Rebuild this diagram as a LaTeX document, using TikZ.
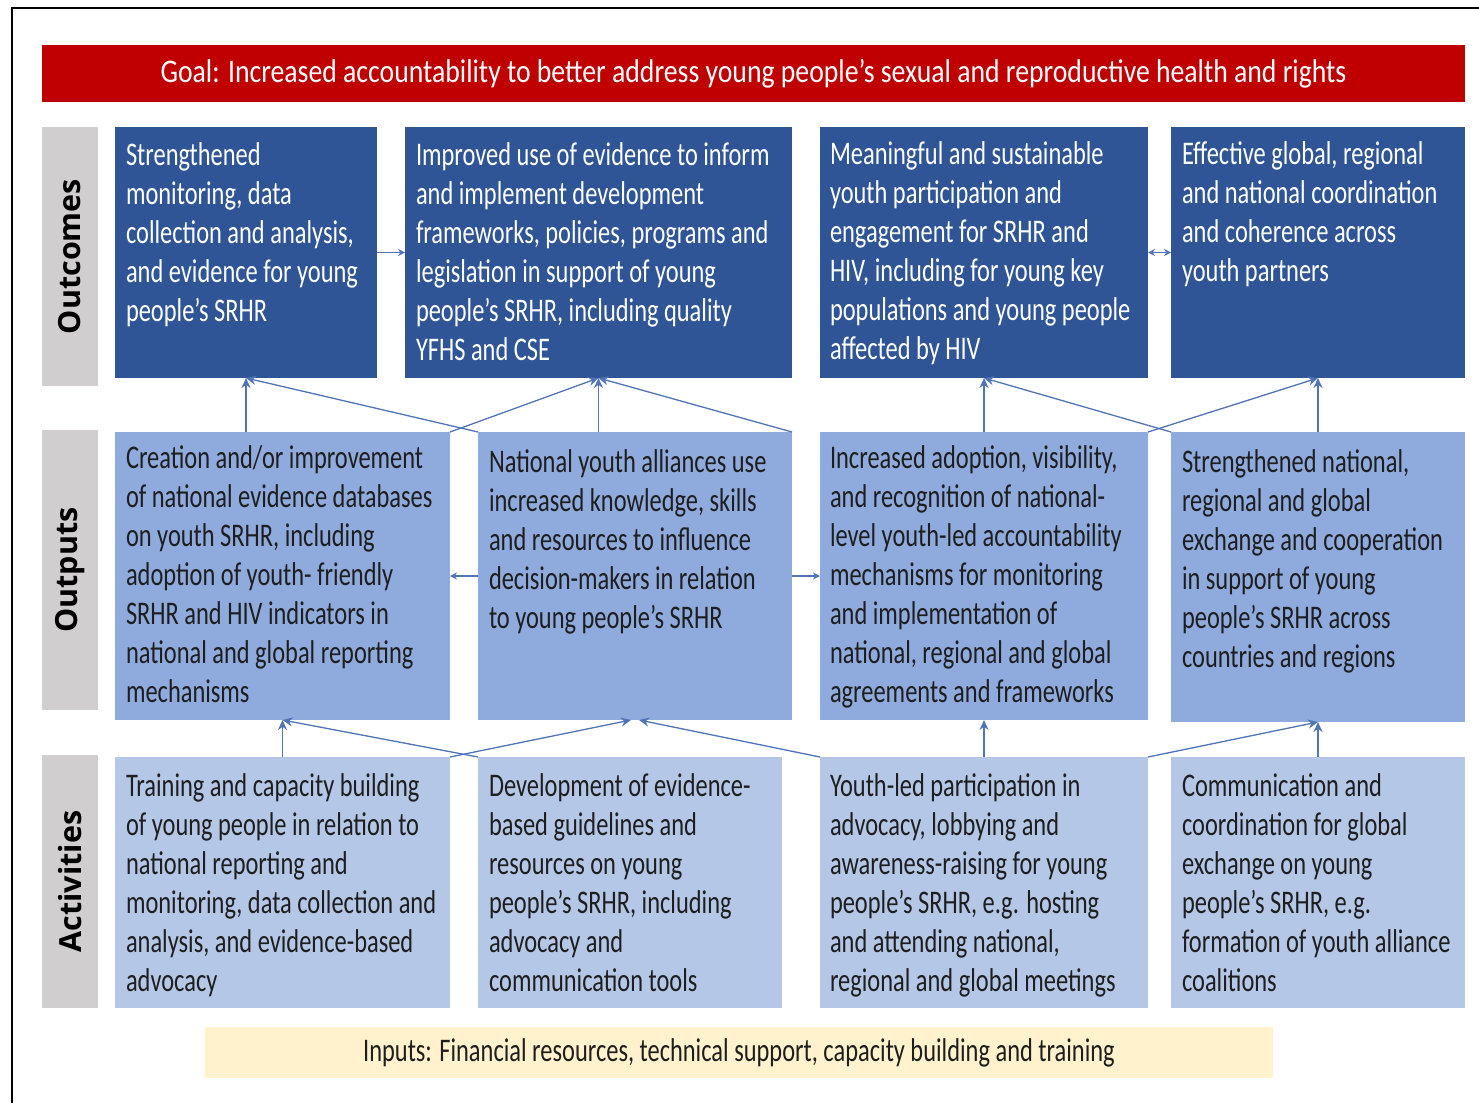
\documentclass[tikz,border=0pt]{standalone}
\usepackage{fontspec}
\setmainfont{Carlito}[FakeStretch=0.74]
\newfontfamily\goalfont{Carlito}[FakeStretch=0.84]
\newfontfamily\labfont{Open Sans}
\usetikzlibrary{arrows.meta}
\definecolor{goalred}{HTML}{C00000}
\definecolor{outcomeblue}{HTML}{2F5597}
\definecolor{outputblue}{HTML}{8FAADC}
\definecolor{actblue}{HTML}{B4C7E7}
\definecolor{inputyellow}{HTML}{FFF2CC}
\definecolor{labgray}{HTML}{D0CECE}
\definecolor{arrowblue}{HTML}{4F74B8}
\definecolor{darktext}{HTML}{1E1E1E}
\newcommand{\st}{\rule{0pt}{28pt}}
\begin{document}
\begin{tikzpicture}[x=1pt,y=-1pt,
  box/.style={draw=none, inner sep=0pt, outer sep=0pt, anchor=north west},
  outcomebox/.style={box, fill=outcomeblue},
  outputbox/.style={box, fill=outputblue},
  actbox/.style={box, fill=actblue},
  labbox/.style={box, fill=labgray},
  txt/.style={inner sep=0pt, outer sep=0pt, anchor=north west, align=left, font=\fontsize{33}{39}\selectfont},
  wtxt/.style={txt, text=white},
  dtxt/.style={txt, text=darktext},
  labtxt/.style={rotate=90, inner sep=0pt, font=\labfont\bfseries\fontsize{30.5}{32}\selectfont, text=black},
  arr/.style={draw=arrowblue, line width=1.3pt, -{Stealth[length=10pt,width=9pt]}},
  sarr/.style={draw=arrowblue, line width=1.3pt, -{Stealth[length=7pt,width=7pt]}},
  darr/.style={draw=arrowblue, line width=1.3pt, {Stealth[length=7pt,width=7pt]}-{Stealth[length=7pt,width=7pt]}}
]
\useasboundingbox (0,0) rectangle (1479,1103);
\fill[white] (0,0) rectangle (1479,1103);
\draw[line width=1.5pt, black] (12,1103) -- (12,8) -- (1479,8);

% goal
\node[box, fill=goalred, minimum width=1423, minimum height=57] (goal) at (42,45) {};
\node[inner sep=0pt, text=white, font=\goalfont\fontsize{33}{39}\selectfont] (goalt) at (goal.center) {Goal: Increased accountability to better address young people’s sexual and reproductive health and rights};

% row labels
\node[labbox, minimum width=56, minimum height=259] (l1) at (42,127) {};
\node[labbox, minimum width=56, minimum height=280] (l2) at (42,430) {};
\node[labbox, minimum width=56, minimum height=253] (l3) at (42,755) {};
\node[labtxt] (l1t) at (l1.center) {Outcomes};
\node[labtxt] (l2t) at (l2.center) {Outputs};
\node[labtxt] (l3t) at (l3.center) {Activities};

% outcomes
\node[outcomebox, minimum width=262, minimum height=251] (o1) at (115,127) {};
\node[outcomebox, minimum width=387, minimum height=251] (o2) at (405,127) {};
\node[outcomebox, minimum width=328, minimum height=251] (o3) at (820,127) {};
\node[outcomebox, minimum width=294, minimum height=251] (o4) at (1171,127) {};
\node[wtxt] (o1t) at (126,137) {\st Strengthened\\monitoring, data\\collection and analysis,\\and evidence for young\\people’s SRHR};
\node[wtxt] (o2t) at (416,137) {\st Improved use of evidence to inform\\and implement development\\frameworks, policies, programs and\\legislation in support of young\\people’s SRHR, including quality\\YFHS and CSE};
\node[wtxt] (o3t) at (830,136) {\st Meaningful and sustainable\\youth participation and\\engagement for SRHR and\\HIV, including for young key\\populations and young people\\affected by HIV};
\node[wtxt] (o4t) at (1182,136) {\st Effective global, regional\\and national coordination\\and coherence across\\youth partners};

% outputs
\node[outputbox, minimum width=335, minimum height=288] (p1) at (115,432) {};
\node[outputbox, minimum width=314, minimum height=288] (p2) at (478,432) {};
\node[outputbox, minimum width=328, minimum height=288] (p3) at (820,432) {};
\node[outputbox, minimum width=294, minimum height=290] (p4) at (1171,432) {};
\node[dtxt] (p1t) at (126,440) {\st Creation and/or improvement\\of national evidence databases\\on youth SRHR, including\\adoption of youth- friendly\\SRHR and HIV indicators in\\national and global reporting\\mechanisms};
\node[dtxt] (p2t) at (489,444) {\st National youth alliances use\\increased knowledge, skills\\and resources to influence\\decision-makers in relation\\to young people’s SRHR};
\node[dtxt] (p3t) at (830,440) {\st Increased adoption, visibility,\\and recognition of national-\\level youth-led accountability\\mechanisms for monitoring\\and implementation of\\national, regional and global\\agreements and frameworks};
\node[dtxt] (p4t) at (1182,444) {\st Strengthened national,\\regional and global\\exchange and cooperation\\in support of young\\people’s SRHR across\\countries and regions};

% activities
\node[actbox, minimum width=335, minimum height=251] (a1) at (115,757) {};
\node[actbox, minimum width=304, minimum height=251] (a2) at (478,757) {};
\node[actbox, minimum width=328, minimum height=251] (a3) at (820,757) {};
\node[actbox, minimum width=294, minimum height=251] (a4) at (1171,757) {};
\node[dtxt] (a1t) at (126,768) {\st Training and capacity building\\of young people in relation to\\national reporting and\\monitoring, data collection and\\analysis, and evidence-based\\advocacy};
\node[dtxt] (a2t) at (489,768) {\st Development of evidence-\\based guidelines and\\resources on young\\people’s SRHR, including\\advocacy and\\communication tools};
\node[dtxt] (a3t) at (830,768) {\st Youth-led participation in\\advocacy, lobbying and\\awareness-raising for young\\people’s SRHR, e.g. hosting\\and attending national,\\regional and global meetings};
\node[dtxt] (a4t) at (1182,768) {\st Communication and\\coordination for global\\exchange on young\\people’s SRHR, e.g.\\formation of youth alliance\\coalitions};

% inputs
\node[box, fill=inputyellow, minimum width=1068, minimum height=51] (inp) at (205,1027) {};
\node[inner sep=0pt, text=darktext, font=\fontsize{33}{39}\selectfont] (inpt) at (inp.center) {Inputs: Financial resources, technical support, capacity building and training};

% horizontal connectors
\draw[sarr] (o1.east) -- (o2.west);
\draw[darr] (o3.east) -- (o4.west);
\draw[sarr] (p2.west) -- (p1.east);
\draw[sarr] (p2.east) -- (p3.west);

% outputs to outcomes
\draw[arr] (p1.north -| o1.south) -- (o1.south);
\draw[arr] (p2.north west) -- (o1.south);
\draw[arr] (p1.north east) -- (o2.south);
\draw[arr] (p2.north -| o2.south) -- (o2.south);
\draw[arr] (p2.north east) -- (o2.south);
\draw[arr] (p3.north) -- (o3.south);
\draw[arr] (p4.north west) -- (o3.south);
\draw[arr] (p3.north east) -- (o4.south);
\draw[arr] (p4.north) -- (o4.south);

% activities to outputs
\coordinate (p2l) at ([xshift=-4pt]p2.south);
\coordinate (p2r) at ([xshift=4pt]p2.south);
\draw[arr] (a1.north) -- (p1.south);
\draw[arr] (a2.north west) -- (p1.south);
\draw[arr] (a1.north east) -- (p2l);
\draw[arr] (a3.north west) -- (p2r);
\draw[arr] (a3.north) -- (p3.south);
\draw[arr] (a3.north east) -- (p4.south);
\draw[arr] (a4.north) -- (p4.south);
\end{tikzpicture}
\end{document}
